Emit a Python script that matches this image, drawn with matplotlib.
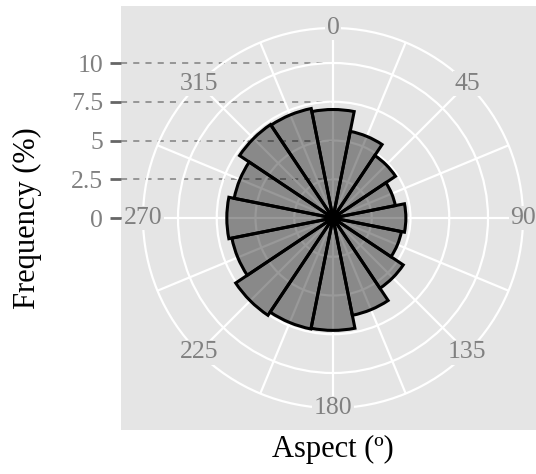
import numpy as np
import matplotlib
matplotlib.use("Agg")
import matplotlib.pyplot as plt

# frequency (%) of each 22.5 degree aspect class, clockwise from north
aspect_deg = [0, 22.5, 45, 67.5, 90, 112.5, 135, 157.5,
              180, 202.5, 225, 247.5, 270, 292.5, 315, 337.5]
frequency = [7.0, 5.7, 4.85, 4.1, 4.7, 4.5, 5.45, 6.4,
             7.25, 7.3, 7.55, 6.65, 6.85, 6.5, 7.25, 7.2]

r_ticks = [0, 2.5, 5, 7.5, 10]
r_tick_labels = ["0", "2.5", "5", "7.5", "10"]
theta_labels = [0, 45, 90, 135, 180, 225, 270, 315]

plt.rcParams['font.family'] = ['Liberation Serif', 'DejaVu Serif']

W, H = 536, 474
fig = plt.figure(figsize=(W / 100, H / 100), dpi=100)

px_per_pct = 15.5          # radial scale, pixels per percent
half = 212 / px_per_pct    # half width of the grey panel
r_max = 190 / px_per_pct   # outer ring of the rose
cx, cy = 333, 218          # rose centre in pixels

# grey panel with the frequency axis on the left
bg = fig.add_axes([121 / W, (H - 430) / H, 424 / W, 424 / H])
bg.set_facecolor('#E5E5E5')
bg.set_xlim(-half, half)
bg.set_ylim(-half, half)
for s in bg.spines.values():
    s.set_visible(False)
bg.set_xticks([])
bg.set_yticks(r_ticks)
bg.set_yticklabels(r_tick_labels)
bg.tick_params(axis='y', length=8, width=2, color='#666666',
               labelcolor='#808080', labelsize=18.5, pad=5)
bg.hlines(r_ticks, -half, 0, colors='#808080', linestyles=(0, (4, 4)), lw=1.1)
bg.set_xlabel('Aspect (º)', fontsize=22)
bg.xaxis.set_label_coords(0.5, -0.012)
bg.set_ylabel('Frequency (%)', fontsize=22)
bg.yaxis.set_label_coords(-0.187, 0.5)

# rose diagram
ax = fig.add_axes([(cx - 190) / W, (H - cy - 190) / H, 380 / W, 380 / H],
                  projection='polar')
ax.set_facecolor('none')
ax.set_theta_zero_location('N')
ax.set_theta_direction(-1)
ax.set_ylim(0, r_max)
ax.set_axisbelow(True)
ax.set_xticks(np.deg2rad(np.arange(0, 360, 22.5)))
ax.set_xticklabels([])
ax.set_yticks(r_ticks[1:])
ax.set_yticklabels([])
ax.grid(color='white', lw=1.6)
ax.spines['polar'].set_color('white')
ax.spines['polar'].set_linewidth(1.6)

ax.bar(np.deg2rad(aspect_deg), frequency, width=np.deg2rad(22.5),
       color=(0, 0, 0, 0.4), edgecolor='black', linewidth=2.2)

for a in theta_labels:
    ax.text(np.deg2rad(a), r_max, str(a), ha='center', va='center',
            fontsize=18.5, color='#808080',
            bbox=dict(boxstyle='square,pad=0.05', fc='#E5E5E5', ec='none'))

fig.savefig('out.png', dpi=100)
